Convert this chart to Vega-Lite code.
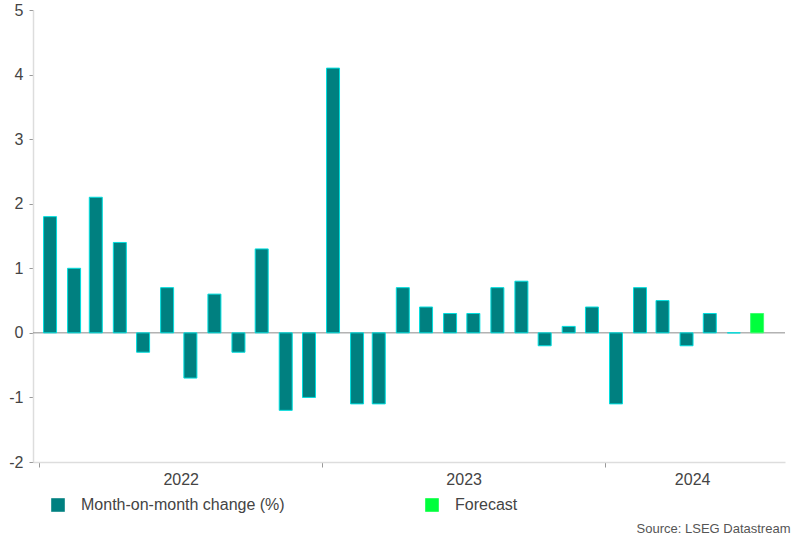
{
  "$schema": "https://vega.github.io/schema/vega-lite/v6.json",
  "width": 752,
  "height": 452,
  "autosize": "none",
  "padding": {"left": 33, "top": 10, "right": 16, "bottom": 74},
  "background": "white",
  "config": {
    "view": {"stroke": null},
    "font": "Liberation Sans"
  },
  "title": {
    "text": "Source: LSEG Datastream",
    "orient": "bottom",
    "anchor": "end",
    "fontSize": 13,
    "fontWeight": "normal",
    "color": "#555555",
    "offset": 10,
    "dx": 5
  },
  "data": {
    "values": [
      {"date": "2022-01-15", "value": 1.8, "series": "Month-on-month change (%)"},
      {"date": "2022-02-15", "value": 1.0, "series": "Month-on-month change (%)"},
      {"date": "2022-03-15", "value": 2.1, "series": "Month-on-month change (%)"},
      {"date": "2022-04-15", "value": 1.4, "series": "Month-on-month change (%)"},
      {"date": "2022-05-15", "value": -0.3, "series": "Month-on-month change (%)"},
      {"date": "2022-06-15", "value": 0.7, "series": "Month-on-month change (%)"},
      {"date": "2022-07-15", "value": -0.7, "series": "Month-on-month change (%)"},
      {"date": "2022-08-15", "value": 0.6, "series": "Month-on-month change (%)"},
      {"date": "2022-09-15", "value": -0.3, "series": "Month-on-month change (%)"},
      {"date": "2022-10-15", "value": 1.3, "series": "Month-on-month change (%)"},
      {"date": "2022-11-15", "value": -1.2, "series": "Month-on-month change (%)"},
      {"date": "2022-12-15", "value": -1.0, "series": "Month-on-month change (%)"},
      {"date": "2023-01-15", "value": 4.1, "series": "Month-on-month change (%)"},
      {"date": "2023-02-15", "value": -1.1, "series": "Month-on-month change (%)"},
      {"date": "2023-03-15", "value": -1.1, "series": "Month-on-month change (%)"},
      {"date": "2023-04-15", "value": 0.7, "series": "Month-on-month change (%)"},
      {"date": "2023-05-15", "value": 0.4, "series": "Month-on-month change (%)"},
      {"date": "2023-06-15", "value": 0.3, "series": "Month-on-month change (%)"},
      {"date": "2023-07-15", "value": 0.3, "series": "Month-on-month change (%)"},
      {"date": "2023-08-15", "value": 0.7, "series": "Month-on-month change (%)"},
      {"date": "2023-09-15", "value": 0.8, "series": "Month-on-month change (%)"},
      {"date": "2023-10-15", "value": -0.2, "series": "Month-on-month change (%)"},
      {"date": "2023-11-15", "value": 0.1, "series": "Month-on-month change (%)"},
      {"date": "2023-12-15", "value": 0.4, "series": "Month-on-month change (%)"},
      {"date": "2024-01-15", "value": -1.1, "series": "Month-on-month change (%)"},
      {"date": "2024-02-15", "value": 0.7, "series": "Month-on-month change (%)"},
      {"date": "2024-03-15", "value": 0.5, "series": "Month-on-month change (%)"},
      {"date": "2024-04-15", "value": -0.2, "series": "Month-on-month change (%)"},
      {"date": "2024-05-15", "value": 0.3, "series": "Month-on-month change (%)"},
      {"date": "2024-06-15", "value": 0.0, "series": "Month-on-month change (%)"},
      {"date": "2024-07-15", "value": 0.3, "series": "Forecast"}
    ]
  },
  "layer": [
    {
      "data": {"values": [{"zero": 0}]},
      "mark": {"type": "rule", "color": "#8c8c8c", "strokeWidth": 1},
      "encoding": {
        "y": {"field": "zero", "type": "quantitative", "scale": {"domain": [-2, 5]}}
      }
    },
    {
      "mark": {"type": "bar", "width": 13, "strokeWidth": 1},
      "encoding": {
        "x": {
          "field": "date",
          "type": "temporal",
          "scale": {"domain": [{"year": 2021, "month": 12, "date": 24}, {"year": 2024, "month": 8, "date": 20}], "padding": 0, "nice": false},
          "axis": {
            "title": null,
            "values": [{"year": 2022, "month": 1, "date": 1}, {"year": 2023, "month": 1, "date": 1}, {"year": 2024, "month": 1, "date": 1}],
            "format": "%Y",
            "grid": false,
            "domainColor": "#dddddd",
            "domainWidth": 1.5,
            "tickColor": "#999999",
            "tickSize": 5,
            "labelFontSize": 16,
            "labelColor": "#444444",
            "labelPadding": 4,
            "labelAlign": "center",
            "labelOffset": {"condition": {"test": "year(datum.value) == 2024", "value": 87}, "value": 141.5}
          }
        },
        "y": {
          "field": "value",
          "type": "quantitative",
          "scale": {"domain": [-2, 5], "nice": false},
          "axis": {
            "title": null,
            "values": [-2, -1, 0, 1, 2, 3, 4, 5],
            "labelExpr": "datum.value < 0 ? '-' + abs(datum.value) : '' + datum.value",
            "grid": false,
            "domainColor": "#dddddd",
            "domainWidth": 1.5,
            "tickColor": "#999999",
            "tickSize": 4,
            "labelFontSize": 16,
            "labelColor": "#444444",
            "labelPadding": 6
          }
        },
        "fill": {
          "field": "series",
          "type": "nominal",
          "scale": {"domain": ["Month-on-month change (%)", "Forecast"], "range": ["#008080", "#00ff3c"]},
          "legend": {
            "title": null,
            "orient": "none",
            "legendX": 17,
            "legendY": 487,
            "direction": "horizontal",
            "symbolType": "square",
            "symbolSize": 185,
            "symbolStrokeWidth": 0,
            "labelFontSize": 16,
            "labelColor": "#444444",
            "labelOffset": 15,
            "columnPadding": 139,
            "labelLimit": 400
          }
        },
        "stroke": {
          "field": "series",
          "type": "nominal",
          "scale": {"domain": ["Month-on-month change (%)", "Forecast"], "range": ["#00dede", "#40ff70"]},
          "legend": null
        }
      }
    }
  ]
}
